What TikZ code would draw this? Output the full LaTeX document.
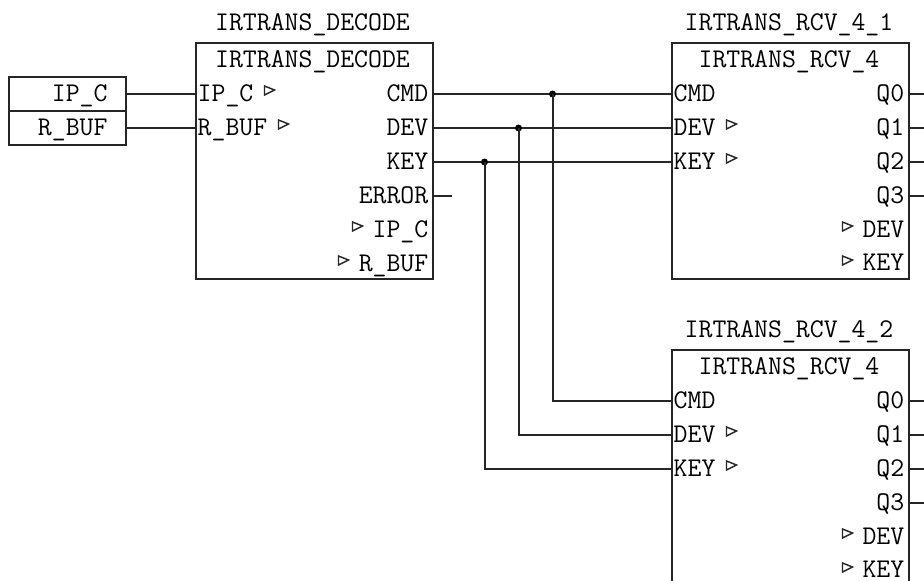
\documentclass[tikz,border=0pt]{standalone}
\usepackage{fontspec}
\newcommand{\fbtxt}{\ttfamily\fontsize{27}{28}\selectfont}
\tikzset{
  x=1pt,y=-1pt,
  every node/.style={font=\fbtxt,text=black},
  wire/.style={line width=2pt,black!85},
  fbox/.style={draw=black!85,line width=2pt,fill=white,rectangle,minimum width=237pt,minimum height=236pt,anchor=north west,inner sep=0pt},
  ttl/.style={inner sep=0pt,text height=15pt,text depth=0pt,anchor=center},
  pinl/.style={anchor=west,inner ysep=0pt,inner xsep=3pt,text height=15pt,text depth=0pt},
  pinr/.style={anchor=east,inner ysep=0pt,inner xsep=3pt,text height=15pt,text depth=0pt},
  cell/.style={draw=black!85,line width=2pt,rectangle,minimum width=117pt,minimum height=34pt,anchor=north west,text width=81pt,align=right,inner xsep=18pt,inner ysep=0pt,text height=15pt,text depth=0pt},
  jdot/.style={circle,fill=black,inner sep=0pt,minimum size=7pt},
  tri/.style={draw=black!85,line width=1.4pt,line join=miter}
}
\newcommand{\trimark}[2]{\draw[tri] (#1,#2-5) -- (#1+10,#2-1) -- (#1,#2+4) -- cycle;}
\newcommand{\rcvblock}[3]{%
  \node[ttl] (#1title) at (789.5,#3-19) {#2};
  \node[fbox] (#1box) at (671,#3) {};
  \node[ttl] (#1type) at (789.5,#3+18) {IRTRANS\_RCV\_4};
  \node[pinl] (#1cmd) at (671,#3+52) {CMD};
  \node[pinl] (#1dev) at (671,#3+86) {DEV};
  \node[pinl] (#1key) at (671,#3+120) {KEY};
  \node[pinr] (#1qa) at (908,#3+52) {Q0};
  \node[pinr] (#1qb) at (908,#3+86) {Q1};
  \node[pinr] (#1qc) at (908,#3+120) {Q2};
  \node[pinr] (#1qd) at (908,#3+154) {Q3};
  \node[pinr] (#1odev) at (908,#3+188) {DEV};
  \node[pinr] (#1okey) at (908,#3+221) {KEY};
  \coordinate (#1ea) at (924,#3+52);
  \coordinate (#1eb) at (924,#3+86);
  \coordinate (#1ec) at (924,#3+120);
  \coordinate (#1ed) at (924,#3+154);
  \draw[wire] (#1qa.east) -- (#1ea);
  \draw[wire] (#1qb.east) -- (#1eb);
  \draw[wire] (#1qc.east) -- (#1ec);
  \draw[wire] (#1qd.east) -- (#1ed);
  \trimark{727}{#3+83}
  \trimark{727}{#3+117}
  \trimark{843}{#3+185}
  \trimark{843}{#3+219}
}
\begin{document}
\begin{tikzpicture}
\useasboundingbox (0,0) rectangle (924,581);
\begin{scope}[shift={(-0.5,0)}]
\clip (0,0) rectangle (925,581);
% inputs
\node[cell] (inipc) at (8,76) {IP\_C};
\node[cell] (inbuf) at (8,110) {R\_BUF};
% decoder
\node[ttl] (dtitle) at (313,23) {IRTRANS\_DECODE};
\node[fbox] (dbox) at (195,42) {};
\node[ttl] (dtype) at (313,60) {IRTRANS\_DECODE};
\node[pinl] (dipc) at (195,94) {IP\_C};
\node[pinl] (dbuf) at (195,128) {R\_BUF};
\node[pinr] (dcmd) at (432,94) {CMD};
\node[pinr] (ddev) at (432,128) {DEV};
\node[pinr] (dkey) at (432,162) {KEY};
\node[pinr] (derr) at (432,196) {ERROR};
\node[pinr] (doipc) at (432,230) {IP\_C};
\node[pinr] (dobuf) at (432,264) {R\_BUF};
\trimark{265}{91}
\trimark{279}{125}
\trimark{353}{227}
\trimark{339}{261}
\coordinate (errend) at (452,196);
% receivers
\rcvblock{ra}{IRTRANS\_RCV\_4\_1}{42}
\rcvblock{rb}{IRTRANS\_RCV\_4\_2}{349}
% wires
\draw[wire] (inipc.east) -- (dipc.west);
\draw[wire] (inbuf.east) -- (dbuf.west);
\draw[wire] (derr.east) -- (errend);
\draw[wire] (dcmd.east) -- (racmd.west);
\draw[wire] (ddev.east) -- (radev.west);
\draw[wire] (dkey.east) -- (rakey.west);
\node[jdot] (ja) at (553,94) {};
\node[jdot] (jb) at (519,128) {};
\node[jdot] (jc) at (485,162) {};
\draw[wire] (ja.center) |- (rbcmd.west);
\draw[wire] (jb.center) |- (rbdev.west);
\draw[wire] (jc.center) |- (rbkey.west);
\end{scope}
\end{tikzpicture}
\end{document}
